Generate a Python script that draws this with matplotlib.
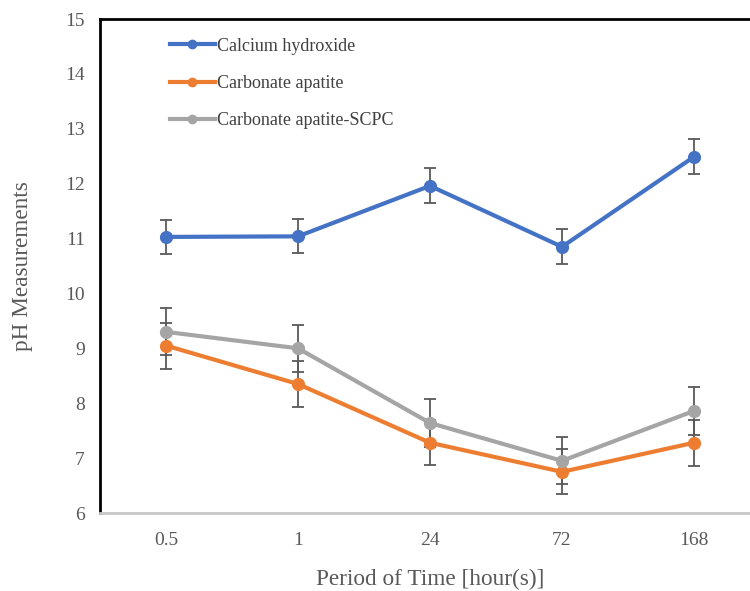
import matplotlib
matplotlib.use("Agg")
import matplotlib.pyplot as plt
from matplotlib.lines import Line2D

plt.rcParams['font.family'] = ['Liberation Serif', 'DejaVu Serif']

periods = ["0.5", "1", "24", "72", "168"]

calcium = [11.03, 11.04, 11.96, 10.85, 12.49]
calcium_err = [0.31, 0.31, 0.32, 0.32, 0.32]

apatite = [9.05, 8.35, 7.28, 6.75, 7.28]
apatite_err = [0.42, 0.42, 0.41, 0.41, 0.42]

scpc = [9.30, 9.00, 7.64, 6.95, 7.86]
scpc_err = [0.43, 0.43, 0.43, 0.43, 0.44]

series = [
    ("Calcium hydroxide", calcium, calcium_err, "#4472c4"),
    ("Carbonate apatite", apatite, apatite_err, "#ed7d31"),
    ("Carbonate apatite-SCPC", scpc, scpc_err, "#a5a5a5"),
]

fig = plt.figure(figsize=(7.5, 5.91), dpi=100)
ax = fig.add_axes([100 / 750, 1 - 513 / 591, 660 / 750, 494 / 591])

x = list(range(len(periods)))
handles = []
for name, vals, err, col in series:
    ax.errorbar(x, vals, yerr=err, color=col, lw=3, marker="o", ms=8.5,
                ecolor="#595959", elinewidth=1.3, capsize=4, capthick=1.3,
                zorder=3)
    handles.append(Line2D([], [], color=col, lw=3, marker="o", ms=6, label=name))

ax.set_xlim(-0.5, 4.5)
ax.set_ylim(6, 15)
ax.set_xticks(x)
ax.set_xticklabels(periods)
ax.set_yticks(range(6, 16))

ax.tick_params(length=0, labelsize=14, labelcolor="#595959", pad=14)
ax.tick_params(axis="y", pad=11)

for s in ("left", "top"):
    ax.spines[s].set_color("black")
    ax.spines[s].set_linewidth(2)
ax.spines["right"].set_visible(False)
ax.spines["bottom"].set_color("#c8c8c8")
ax.spines["bottom"].set_linewidth(2)

ax.set_xlabel("Period of Time [hour(s)]", fontsize=16.75, color="#595959", labelpad=14)
ax.set_ylabel("pH Measurements", fontsize=16.75, color="#595959", labelpad=23)

ax.legend(handles=handles, loc="upper left", bbox_to_anchor=(0.081, 0.995), frameon=False,
          fontsize=13, labelspacing=1.12, handlelength=2.5, handletextpad=0.12,
          labelcolor="#404040")

fig.savefig("out.png", dpi=100)
